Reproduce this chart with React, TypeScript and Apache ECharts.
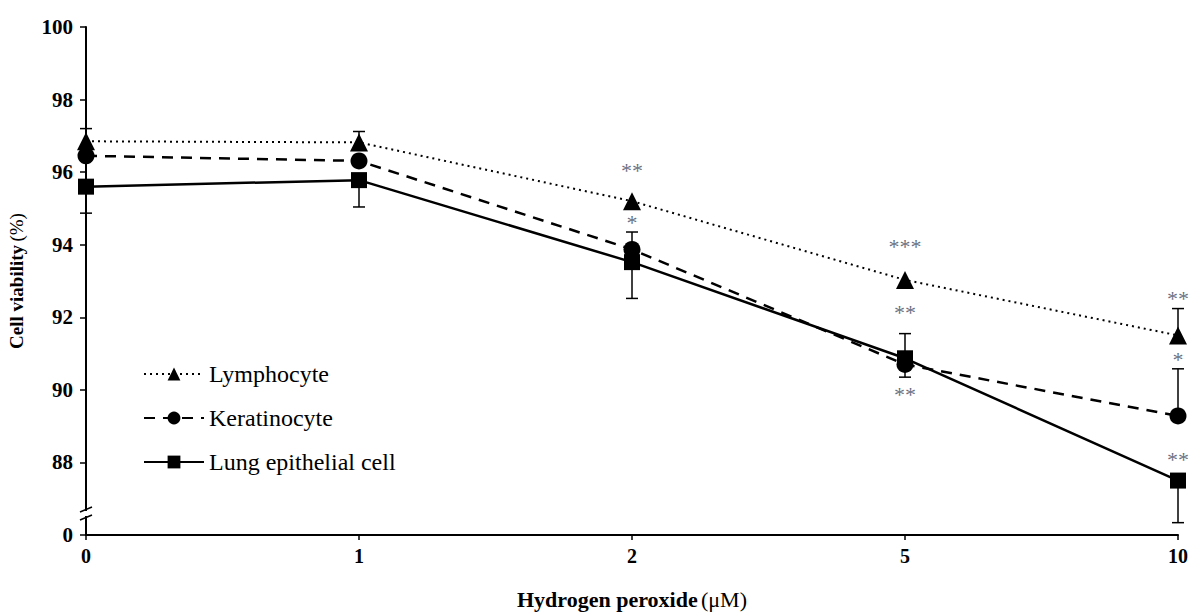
import React, { useEffect, useRef } from "react";
import * as echarts from "echarts";

const categories = ["0", "1", "2", "5", "10"];
const lymphocyte = [96.85, 96.82, 95.2, 93.03, 91.5];
const keratinocyte = [96.45, 96.31, 93.87, 90.7, 89.28];
const lungEpithelial = [95.6, 95.78, 93.52, 90.87, 87.5];

// error bar end values (null = no visible bar)
const lymphocyteErrEnd = [97.2, 97.12, null, null, 92.24];
const keratinocyteErrEnd = [null, null, 94.35, 90.35, 90.58];
const lungErrEnd = [94.87, 95.04, 92.52, 91.55, 86.34];

// significance marks: [category index, value, text]
const significance: [number, number, string][] = [
  [2, 96.04, "**"],
  [2, 94.6, "*"],
  [3, 93.96, "***"],
  [3, 92.13, "**"],
  [3, 89.88, "**"],
  [4, 92.52, "**"],
  [4, 90.85, "*"],
  [4, 88.08, "**"],
];

const yTicks = [86, 88, 90, 92, 94, 96, 98, 100];
const FONT = "'Liberation Serif', 'Times New Roman', serif";

function errData(vals: number[], ends: (number | null)[]) {
  const out: number[][] = [];
  vals.forEach((v, i) => {
    const e = ends[i];
    if (e !== null && e !== undefined) out.push([i, v, e]);
  });
  return out;
}

export default function App() {
  const ref = useRef<HTMLDivElement>(null);
  useEffect(() => {
    if (!ref.current) return;
    const chart = echarts.init(ref.current, null, { renderer: "svg" });
    const renderErr = (params: any, api: any) => {
      const x = api.value(0);
      const p0 = api.coord([x, api.value(1)]);
      const p1 = api.coord([x, api.value(2)]);
      return {
        type: "group",
        children: [
          {
            type: "line",
            shape: { x1: p0[0], y1: p0[1], x2: p1[0], y2: p1[1] },
            style: { stroke: "#000", lineWidth: 1.5 },
          },
          {
            type: "line",
            shape: { x1: p1[0] - 6, y1: p1[1], x2: p1[0] + 6, y2: p1[1] },
            style: { stroke: "#000", lineWidth: 1.5 },
          },
        ],
      };
    };
    const option: any = {
      animation: false,
      backgroundColor: "#fff",
      grid: {
        left: 86,
        right: 12,
        top: 27,
        bottom: 77,
        containLabel: false,
        outerBoundsMode: "none",
      },
      legend: {
        data: ["Lymphocyte", "Keratinocyte", "Lung epithelial cell"],
        orient: "vertical",
        left: 138,
        top: 357,
        itemWidth: 60,
        itemHeight: 16,
        itemGap: 20,
        textStyle: { fontFamily: FONT, fontSize: 24, color: "#000" },
      },
      xAxis: {
        type: "category",
        data: categories,
        boundaryGap: false,
        axisLine: { lineStyle: { color: "#000", width: 2 } },
        axisTick: { show: true, length: 5, lineStyle: { color: "#000", width: 1.5 } },
        axisLabel: {
          fontFamily: FONT,
          fontWeight: "bold",
          fontSize: 20,
          color: "#000",
          margin: 11,
        },
        name: "{b|Hydrogen peroxide} {n|(μM)}",
        nameLocation: "middle",
        nameGap: 53,
        nameTextStyle: {
          rich: {
            b: { fontFamily: FONT, fontWeight: "bold", fontSize: 22, color: "#000" },
            n: { fontFamily: FONT, fontSize: 22, color: "#000" },
          },
        },
      },
      yAxis: {
        type: "value",
        min: 86,
        max: 100,
        interval: 2,
        splitLine: { show: false },
        axisLine: { show: true, lineStyle: { color: "#000", width: 2 } },
        axisTick: { show: true, length: 6, lineStyle: { color: "#000", width: 1.5 } },
        axisLabel: {
          fontFamily: FONT,
          fontWeight: "bold",
          fontSize: 21,
          color: "#000",
          margin: 13,
          formatter: (v: number) => (v === yTicks[0] ? "0" : String(v)),
        },
        name: "{b|Cell viability} {n|(%)}",
        nameLocation: "middle",
        nameGap: 60,
        nameRotate: 90,
        nameTextStyle: {
          rich: {
            b: { fontFamily: FONT, fontWeight: "bold", fontSize: 19, color: "#000" },
            n: { fontFamily: FONT, fontSize: 19, color: "#000" },
          },
        },
      },
      series: [
        {
          type: "custom",
          name: "errLymph",
          renderItem: renderErr,
          data: errData(lymphocyte, lymphocyteErrEnd),
          z: 1,
          silent: true,
        },
        {
          type: "custom",
          name: "errKer",
          renderItem: renderErr,
          data: errData(keratinocyte, keratinocyteErrEnd),
          z: 1,
          silent: true,
        },
        {
          type: "custom",
          name: "errLung",
          renderItem: renderErr,
          data: errData(lungEpithelial, lungErrEnd),
          z: 1,
          silent: true,
        },
        {
          type: "line",
          name: "Lymphocyte",
          data: lymphocyte,
          symbol: "triangle",
          symbolSize: 18,
          itemStyle: { color: "#000" },
          lineStyle: { color: "#000", width: 2, type: [2, 4] },
          z: 3,
        },
        {
          type: "line",
          name: "Keratinocyte",
          data: keratinocyte,
          symbol: "circle",
          symbolSize: 17,
          itemStyle: { color: "#000" },
          lineStyle: { color: "#000", width: 2.5, type: [11, 8] },
          z: 3,
        },
        {
          type: "line",
          name: "Lung epithelial cell",
          data: lungEpithelial,
          symbol: "rect",
          symbolSize: 16,
          itemStyle: { color: "#000" },
          lineStyle: { color: "#000", width: 2.5 },
          z: 3,
        },
        {
          type: "scatter",
          name: "sig",
          data: significance.map((s) => [s[0], s[1], s[2]]),
          symbolSize: 0,
          silent: true,
          z: 4,
          label: {
            show: true,
            position: "inside",
            formatter: (p: any) => p.value[2],
            fontFamily: FONT,
            fontSize: 22,
            color: "#3f4b60",
          },
        },
      ],
      graphic: [
        {
          type: "rect",
          shape: { x: 82, y: 511, width: 8, height: 5 },
          style: { fill: "#fff" },
          z: 100,
        },
        {
          type: "line",
          shape: { x1: 80, y1: 512, x2: 92, y2: 507 },
          style: { stroke: "#000", lineWidth: 1.5 },
          z: 101,
        },
        {
          type: "line",
          shape: { x1: 80, y1: 520, x2: 92, y2: 515 },
          style: { stroke: "#000", lineWidth: 1.5 },
          z: 101,
        },
      ],
    };
    chart.setOption(option);
    return () => chart.dispose();
  }, []);
  return (
    <div
      ref={ref}
      style={{ position: "fixed", left: 0, top: 0, width: 1190, height: 612, background: "#fff" }}
    />
  );
}
